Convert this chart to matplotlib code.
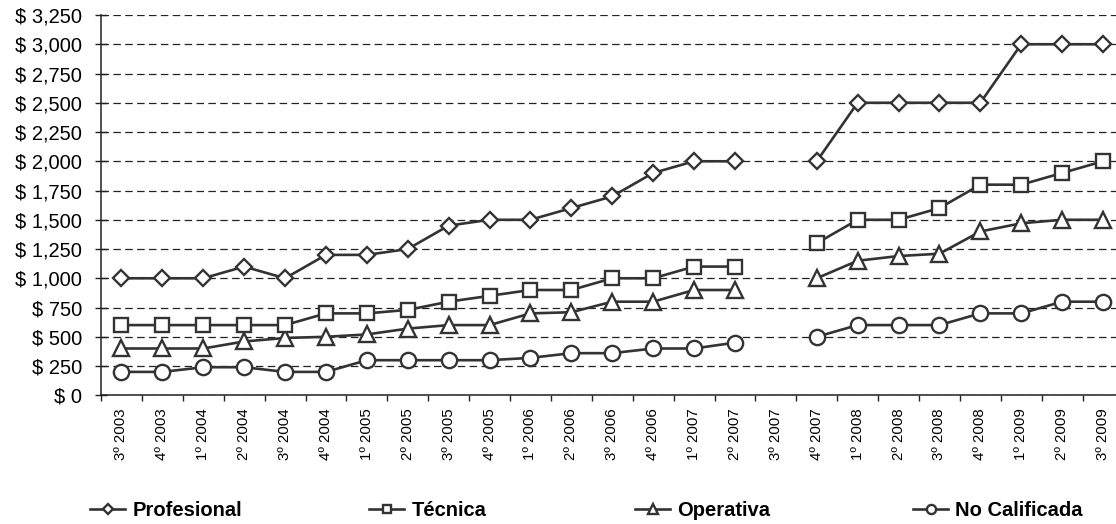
import numpy as np
import matplotlib
matplotlib.use('Agg')
from matplotlib import pyplot as plt
from matplotlib.ticker import FuncFormatter, MultipleLocator

# quarters on the x axis
quarters = ['3º 2003', '4º 2003', '1º 2004', '2º 2004', '3º 2004', '4º 2004',
            '1º 2005', '2º 2005', '3º 2005', '4º 2005', '1º 2006', '2º 2006',
            '3º 2006', '4º 2006', '1º 2007', '2º 2007', '3º 2007', '4º 2007',
            '1º 2008', '2º 2008', '3º 2008', '4º 2008', '1º 2009', '2º 2009',
            '3º 2009']

# salaries per category (3º 2007 has no data)
nan = np.nan
profesional = [1000, 1000, 1000, 1100, 1000, 1200, 1200, 1250, 1450, 1500, 1500, 1600,
               1700, 1900, 2000, 2000, nan, 2000, 2500, 2500, 2500, 2500, 3000, 3000, 3000]
tecnica = [600, 600, 600, 600, 600, 700, 700, 730, 800, 850, 900, 900,
           1000, 1000, 1100, 1100, nan, 1300, 1500, 1500, 1600, 1800, 1800, 1900, 2000]
operativa = [400, 400, 400, 460, 490, 500, 520, 570, 600, 600, 700, 710,
             800, 800, 900, 900, nan, 1000, 1150, 1190, 1210, 1400, 1470, 1500, 1500]
no_calificada = [200, 200, 240, 240, 200, 200, 300, 300, 300, 300, 320, 360,
                 360, 400, 400, 450, nan, 500, 600, 600, 600, 700, 700, 800, 800]

series = [('Profesional', profesional, 'D', 8, 10),
          ('Técnica', tecnica, 's', 10.5, 9),
          ('Operativa', operativa, '^', 11, 8),
          ('No Calificada', no_calificada, 'o', 11, 7)]

plt.rcParams['font.family'] = ['Liberation Sans', 'DejaVu Sans']

W, H = 1116, 524
fig = plt.figure(figsize=(W / 100, H / 100), dpi=100)
left, right, top, bottom = 101, 1123.5, 15, 395.3
ax = fig.add_axes([left / W, 1 - bottom / H, (right - left) / W, (bottom - top) / H])

x = np.arange(len(quarters))
lines = []
for name, vals, mk, ms, z in series:
    ln, = ax.plot(x, vals, color='#333333', lw=1.9, marker=mk, markersize=ms,
                  markerfacecolor='white', markeredgecolor='#333333',
                  markeredgewidth=1.7, zorder=z, clip_on=False)
    lines.append(ln)

ax.set_xlim(-0.5, len(quarters) - 0.5)
ax.set_ylim(0, 3250)
ax.yaxis.set_major_locator(MultipleLocator(250))
ax.yaxis.set_major_formatter(FuncFormatter(lambda v, p: f'$ {v:,.0f}'))
ax.grid(axis='y', color='#222222', linestyle=(0, (6, 3.5)), linewidth=0.9)
ax.set_axisbelow(True)

ax.set_xticks(x)
ax.set_xticklabels(quarters, rotation=90, fontsize=10.8)
ax.set_xticks(np.arange(len(quarters) + 1) - 0.5, minor=True)
ax.tick_params(axis='x', which='major', length=0, pad=9.5)
ax.tick_params(axis='x', which='minor', length=4, width=1, color='#222222', direction='out')
ax.tick_params(axis='y', which='major', length=9, width=1, color='#222222',
               direction='inout', labelsize=14.5, pad=9)

for s in ['top', 'right']:
    ax.spines[s].set_visible(False)
for s in ['left', 'bottom']:
    ax.spines[s].set_color('#222222')
    ax.spines[s].set_linewidth(1.1)

# legend entries spread along the bottom
legend_x = [90, 369, 635, 913]
for ln, (name, *_), lx in zip(lines, series, legend_x):
    fig.legend([ln], [name], loc='center left', bbox_to_anchor=(lx / W, 1 - 511 / H),
               frameon=False, borderpad=0, borderaxespad=0, handlelength=1.75,
               handletextpad=0.35, markerscale=0.6,
               prop={'weight': 'bold', 'size': 14.5})

fig.savefig('out.png', dpi=100)
